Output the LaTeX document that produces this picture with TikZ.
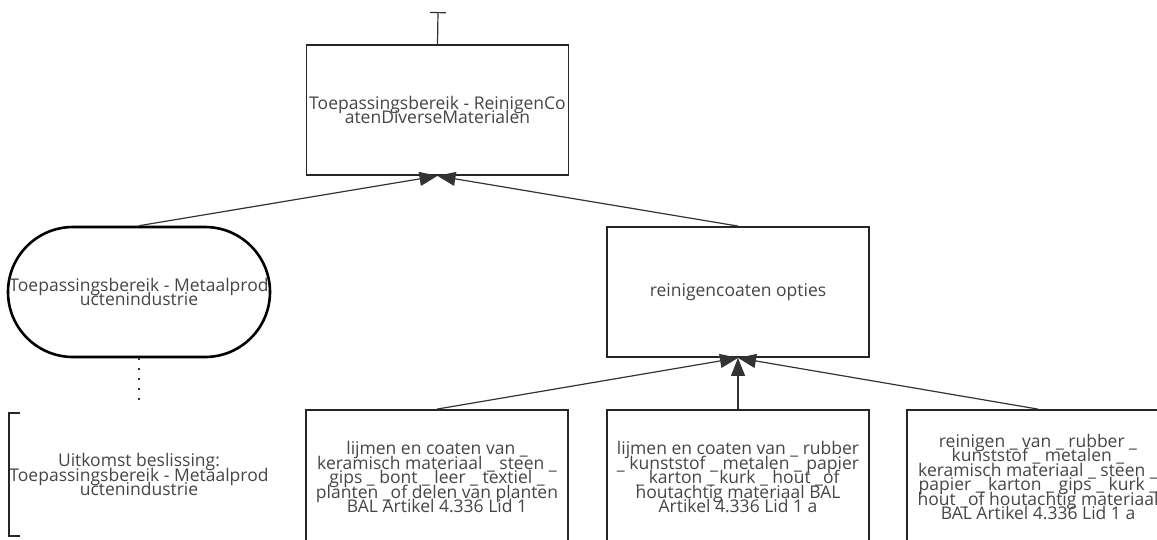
\documentclass[tikz,border=0pt]{standalone}
\usepackage{fontspec}
\setmainfont{Open Sans}
\usetikzlibrary{arrows.meta}
\definecolor{txt}{HTML}{454545}
\newcommand\mynodefont{\fontsize{17.5}{14.5}\selectfont\lineskiplimit=-100pt\relax\lineskip=0pt\relax}
\tikzset{
  x=1pt, y=-1pt,
  every node/.style={font=\mynodefont, text=txt, align=center, inner sep=0pt},
  boxnode/.style={draw=black!85, line width=1.8pt, minimum width=262pt, minimum height=130pt},
  stadnode/.style={draw=black, line width=2.6pt, minimum width=262pt, minimum height=130pt, rounded corners=65pt},
  conn/.style={draw=black!80, line width=1.2pt},
  arr/.style={conn, -{Triangle[length=18pt,width=14pt]}},
}
\begin{document}
\begin{tikzpicture}
\useasboundingbox (0,0) rectangle (1157,539);
\node[boxnode] (top) at (437.5,110) {Toepassingsbereik - ReinigenCo\\atenDiverseMaterialen};
\node[stadnode] (stad) at (139,292) {Toepassingsbereik - Metaalprod\\uctenindustrie};
\node[boxnode] (opt) at (738,292) {reinigencoaten opties};
\node[boxnode, minimum height=134pt] (b1) at (437,477) {lijmen en coaten van \_\\keramisch materiaal \_ steen \_\\gips \_ bont \_ leer \_ textiel \_\\planten \_of delen van planten\\BAL Artikel 4.336 Lid 1};
\node[boxnode, minimum height=134pt] (b2) at (738,477) {lijmen en coaten van \_ rubber\\\_ kunststof \_ metalen \_ papier\\\_ karton \_ kurk \_ hout \_of\\houtachtig materiaal BAL\\Artikel 4.336 Lid 1 a};
\node[boxnode, minimum height=134pt] (b3) at (1038,477) {reinigen \_ van \_ rubber \_\\kunststof \_ metalen \_\\keramisch materiaal \_ steen \_\\papier \_ karton \_ gips \_ kurk \_\\hout \_of houtachtig materiaal\\BAL Artikel 4.336 Lid 1 a};
\node[minimum width=248pt, minimum height=123pt] (ann) at (139,474.5) {Uitkomst beslissing:\\Toepassingsbereik - Metaalprod\\uctenindustrie};
\draw[draw=black!85, line width=1.8pt] ([xshift=11pt]ann.north west) -- (ann.north west) -- (ann.south west) -- ([xshift=11pt]ann.south west);
\coordinate (stub) at (438,12);
\draw[conn, {Bar[width=16pt]}-] (stub) -- (top.north);
\coordinate (dotend) at (139,404);
\draw[conn, line width=1.6pt, dash pattern=on 1.6pt off 8.4pt] (stad.south) -- (dotend);
\draw[arr] (stad.north) -- (top.south);
\draw[arr] (opt.north) -- (top.south);
\draw[arr] (b1.north) -- (opt.south);
\draw[arr] (b2.north) -- (opt.south);
\draw[arr] (b3.north) -- (opt.south);
\end{tikzpicture}
\end{document}
